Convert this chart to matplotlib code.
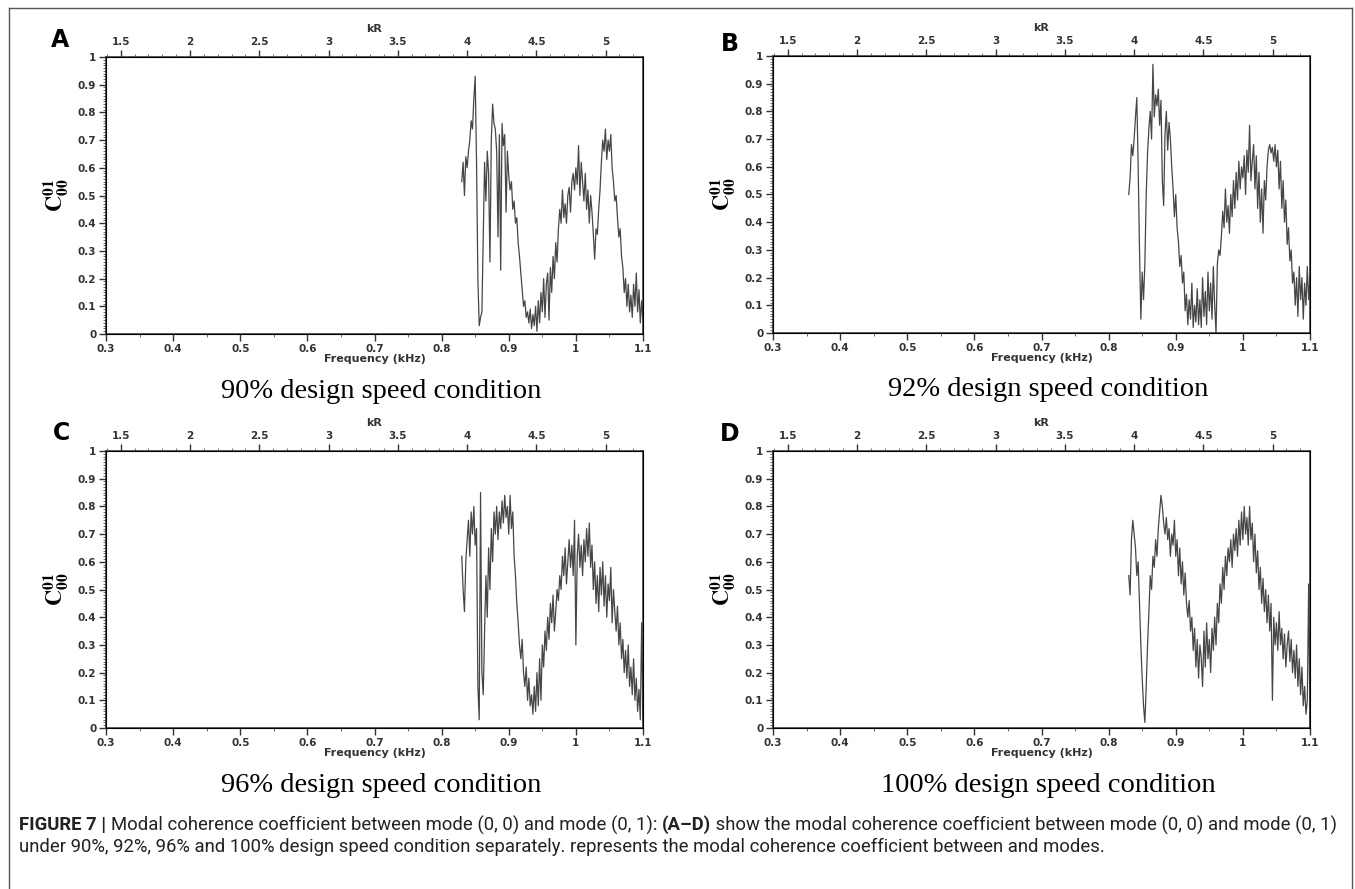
import numpy as np
import matplotlib
matplotlib.use("Agg")
import matplotlib.pyplot as plt
from matplotlib.ticker import MultipleLocator, FormatStrFormatter
from matplotlib.lines import Line2D

plt.rcParams["mathtext.fontset"] = "stix"

# frequency samples (kHz), one value every 0.002 kHz from 0.83 to 1.10
freq_start, freq_step = 0.83, 0.002

coh_90 = [
    0.55, 0.62, 0.50, 0.64, 0.60,
    0.66, 0.70, 0.77, 0.74, 0.85,
    0.93, 0.62, 0.20, 0.03, 0.06,
    0.08, 0.35, 0.62, 0.48, 0.66,
    0.58, 0.26, 0.70, 0.83, 0.76,
    0.74, 0.66, 0.35, 0.72, 0.23,
    0.76, 0.68, 0.72, 0.44, 0.66,
    0.57, 0.52, 0.55, 0.45, 0.48,
    0.40, 0.42, 0.33, 0.28, 0.22,
    0.16, 0.10, 0.12, 0.06, 0.08,
    0.04, 0.09, 0.02, 0.07, 0.03,
    0.10, 0.01, 0.12, 0.04, 0.15,
    0.08, 0.20, 0.06, 0.18, 0.22,
    0.05, 0.24, 0.15, 0.28, 0.20,
    0.33, 0.26, 0.38, 0.45, 0.40,
    0.52, 0.42, 0.47, 0.40, 0.50,
    0.53, 0.44, 0.55, 0.58, 0.52,
    0.60, 0.54, 0.68, 0.50, 0.62,
    0.55, 0.48, 0.58, 0.45, 0.52,
    0.40, 0.50, 0.44, 0.36, 0.27,
    0.38, 0.36, 0.45, 0.52, 0.62,
    0.70, 0.66, 0.74, 0.63, 0.70,
    0.66, 0.72, 0.60, 0.55, 0.48,
    0.50, 0.42, 0.35, 0.38, 0.28,
    0.24, 0.15, 0.20, 0.10, 0.18,
    0.08, 0.14, 0.06, 0.18, 0.10,
    0.22, 0.08, 0.16, 0.04, 0.12, 0.05,
]

coh_92 = [
    0.50, 0.56, 0.68, 0.64, 0.70,
    0.78, 0.85, 0.60, 0.30, 0.05,
    0.22, 0.12, 0.25, 0.50, 0.65,
    0.74, 0.80, 0.70, 0.97, 0.78,
    0.86, 0.82, 0.88, 0.75, 0.84,
    0.55, 0.46, 0.72, 0.80, 0.66,
    0.76, 0.70, 0.60, 0.52, 0.42,
    0.50, 0.38, 0.33, 0.24, 0.28,
    0.18, 0.22, 0.08, 0.14, 0.03,
    0.12, 0.05, 0.18, 0.02, 0.10,
    0.04, 0.16, 0.03, 0.12, 0.02,
    0.20, 0.06, 0.15, 0.03, 0.22,
    0.08, 0.18, 0.05, 0.24, 0.10,
    0.00, 0.25, 0.30, 0.28, 0.35,
    0.44, 0.38, 0.52, 0.40, 0.46,
    0.36, 0.50, 0.42, 0.55, 0.45,
    0.58, 0.48, 0.62, 0.52, 0.60,
    0.56, 0.64, 0.50, 0.66, 0.58,
    0.75, 0.55, 0.62, 0.68, 0.52,
    0.64, 0.45, 0.58, 0.40, 0.52,
    0.36, 0.55, 0.48, 0.60, 0.66,
    0.68, 0.65, 0.67, 0.62, 0.68,
    0.60, 0.66, 0.52, 0.62, 0.45,
    0.55, 0.40, 0.48, 0.32, 0.38,
    0.26, 0.30, 0.18, 0.22, 0.10,
    0.20, 0.06, 0.24, 0.12, 0.20,
    0.05, 0.18, 0.10, 0.24, 0.12, 0.20,
]

coh_96 = [
    0.62, 0.50, 0.42, 0.60, 0.68,
    0.75, 0.62, 0.78, 0.70, 0.80,
    0.66, 0.72, 0.15, 0.03, 0.85,
    0.20, 0.12, 0.35, 0.55, 0.40,
    0.65, 0.50, 0.72, 0.60, 0.78,
    0.70, 0.80, 0.68, 0.78, 0.72,
    0.82, 0.74, 0.84, 0.76, 0.80,
    0.70, 0.84, 0.72, 0.78, 0.62,
    0.55, 0.45, 0.38, 0.30, 0.25,
    0.32, 0.20, 0.15, 0.22, 0.10,
    0.18, 0.08, 0.12, 0.05, 0.15,
    0.06, 0.20, 0.08, 0.25, 0.10,
    0.30, 0.22, 0.35, 0.28, 0.40,
    0.32, 0.45, 0.38, 0.48, 0.35,
    0.42, 0.50, 0.46, 0.55, 0.50,
    0.62, 0.55, 0.65, 0.52, 0.60,
    0.68, 0.58, 0.66, 0.55, 0.75,
    0.30, 0.62, 0.70, 0.58, 0.66,
    0.55, 0.68, 0.60, 0.72, 0.62,
    0.74, 0.58, 0.66, 0.50, 0.60,
    0.45, 0.55, 0.42, 0.58, 0.48,
    0.60, 0.44, 0.55, 0.40, 0.52,
    0.46, 0.58, 0.38, 0.50, 0.42,
    0.35, 0.44, 0.30, 0.38, 0.25,
    0.32, 0.20, 0.28, 0.18, 0.30,
    0.15, 0.22, 0.12, 0.25, 0.10,
    0.18, 0.06, 0.14, 0.03, 0.38, 0.02,
]

coh_100 = [
    0.55, 0.48, 0.68, 0.75, 0.70,
    0.65, 0.55, 0.60, 0.45, 0.30,
    0.18, 0.08, 0.02, 0.15, 0.30,
    0.42, 0.55, 0.50, 0.62, 0.58,
    0.68, 0.62, 0.72, 0.78, 0.84,
    0.80, 0.74, 0.70, 0.76, 0.68,
    0.72, 0.62, 0.70, 0.66, 0.75,
    0.62, 0.68, 0.55, 0.65, 0.52,
    0.60, 0.48, 0.56, 0.45, 0.40,
    0.46, 0.35, 0.40, 0.28, 0.36,
    0.22, 0.32, 0.18, 0.30, 0.25,
    0.15, 0.35, 0.22, 0.38, 0.25,
    0.32, 0.20, 0.36, 0.28, 0.40,
    0.30, 0.45, 0.38, 0.52, 0.45,
    0.58, 0.50, 0.62, 0.55, 0.65,
    0.60, 0.68, 0.58, 0.70, 0.64,
    0.72, 0.62, 0.75, 0.66, 0.78,
    0.68, 0.80, 0.70, 0.76, 0.66,
    0.80, 0.68, 0.74, 0.60, 0.70,
    0.56, 0.64, 0.50, 0.58, 0.45,
    0.54, 0.42, 0.50, 0.38, 0.48,
    0.35, 0.45, 0.10, 0.40, 0.30,
    0.38, 0.28, 0.42, 0.30, 0.36,
    0.25, 0.34, 0.22, 0.30, 0.35,
    0.24, 0.32, 0.20, 0.28, 0.18,
    0.30, 0.15, 0.25, 0.12, 0.22,
    0.08, 0.15, 0.05, 0.10, 0.52, 0.00,
]

panel_letters = ["A", "B", "C", "D"]
panel_titles = ["90% design speed condition", "92% design speed condition",
                "96% design speed condition", "100% design speed condition"]
series = [coh_90, coh_92, coh_96, coh_100]

caption_1 = [("FIGURE 7 | ", "bold"),
             ("Modal coherence coefficient between mode (0, 0) and mode (0, 1): ", "normal"),
             ("(A\u2013D)", "bold"),
             (" show the modal coherence coefficient between mode (0, 0) and mode (0, 1)", "normal")]
caption_2 = [("under 90%, 92%, 96% and 100% design speed condition separately. "
              "represents the modal coherence coefficient between and modes.", "normal")]

W, H = 1355, 889
fig = plt.figure(figsize=(W / 100, H / 100), dpi=100)

def px_axes(x0, y0, x1, y1):
    return fig.add_axes([x0 / W, 1 - y1 / H, (x1 - x0) / W, (y1 - y0) / H])

# figure frame
for xs, ys in [([9, 9], [8, H]), ([9, 1352], [8, 8]), ([1352, 1352], [8, H])]:
    fig.add_artist(Line2D([x / W for x in xs], [1 - y / H for y in ys],
                          color="#555555", lw=1.0))

boxes = [(106, 57, 643, 334), (773, 56, 1310, 333),
         (106, 451, 643, 728), (773, 451, 1310, 728)]
letter_pos = [(60, 40), (730, 44), (62, 433), (730, 434)]

line_c = "#262626"

for i, (x0, y0, x1, y1) in enumerate(boxes):
    ax = px_axes(x0, y0, x1, y1)
    vals = np.array(series[i])
    freqs = freq_start + freq_step * np.arange(len(vals))
    ax.plot(freqs, vals, color=line_c, lw=0.9, alpha=0.85)
    ax.set_xlim(0.3, 1.1)
    ax.set_ylim(0, 1)
    ax.xaxis.set_major_locator(MultipleLocator(0.1))
    ax.xaxis.set_minor_locator(MultipleLocator(0.05))
    ax.yaxis.set_major_locator(MultipleLocator(0.1))
    ax.yaxis.set_minor_locator(MultipleLocator(0.01))
    ax.xaxis.set_major_formatter(FormatStrFormatter("%g"))
    ax.yaxis.set_major_formatter(FormatStrFormatter("%g"))
    ax.tick_params(which="major", direction="out", length=5, width=1, pad=2, color="#333333")
    ax.tick_params(which="minor", direction="out", length=2.5, width=0.6, color="#555555")
    for lab in ax.get_xticklabels() + ax.get_yticklabels():
        lab.set_fontsize(7.5)
        lab.set_fontweight("bold")
        lab.set_color("#333333")
    for s in ax.spines.values():
        s.set_linewidth(1.1)
        s.set_color("#333333")
    ax.set_xlabel("Frequency (kHz)", fontsize=8, fontweight="bold", labelpad=0, color="#333333")
    ax.set_ylabel(r"$\mathbf{C}_{\mathbf{00}}^{\mathbf{01}}$", fontsize=16, labelpad=5)

    top = ax.twiny()
    top.set_xlim(1.394, 5.27)
    top.xaxis.set_major_locator(MultipleLocator(0.5))
    top.xaxis.set_minor_locator(MultipleLocator(0.1))
    top.xaxis.set_major_formatter(FormatStrFormatter("%g"))
    top.tick_params(which="major", direction="out", length=5, width=1, pad=2, color="#333333")
    top.tick_params(which="minor", direction="out", length=2.5, width=0.6, color="#555555")
    for lab in top.get_xticklabels():
        lab.set_fontsize(7.5)
        lab.set_fontweight("bold")
        lab.set_color("#333333")
    top.set_xlabel("kR", fontsize=8, fontweight="bold", color="#333333")
    top.xaxis.set_label_coords(0.5, 1.09)

    lx, ly = letter_pos[i]
    fig.text(lx / W, 1 - ly / H, panel_letters[i], fontsize=17, fontweight="bold",
             ha="center", va="center")
    fig.text(((x0 + x1) / 2 + 7) / W, 1 - (y1 + 57) / H, panel_titles[i],
             family="Liberation Serif", fontsize=20.5, ha="center", va="center")

# caption with mixed weights
fig.canvas.draw()
renderer = fig.canvas.get_renderer()
cap_family = ["Roboto", "DejaVu Sans"]
for parts, ypx in [(caption_1, 825), (caption_2, 847)]:
    xpx = 19
    for txt, wt in parts:
        t = fig.text(xpx / W, 1 - ypx / H, txt, fontsize=13.3, fontweight=wt,
                     family=cap_family, ha="left", va="center", color="#222222")
        bb = t.get_window_extent(renderer=renderer)
        xpx += bb.width

fig.savefig("out.png", dpi=100)
